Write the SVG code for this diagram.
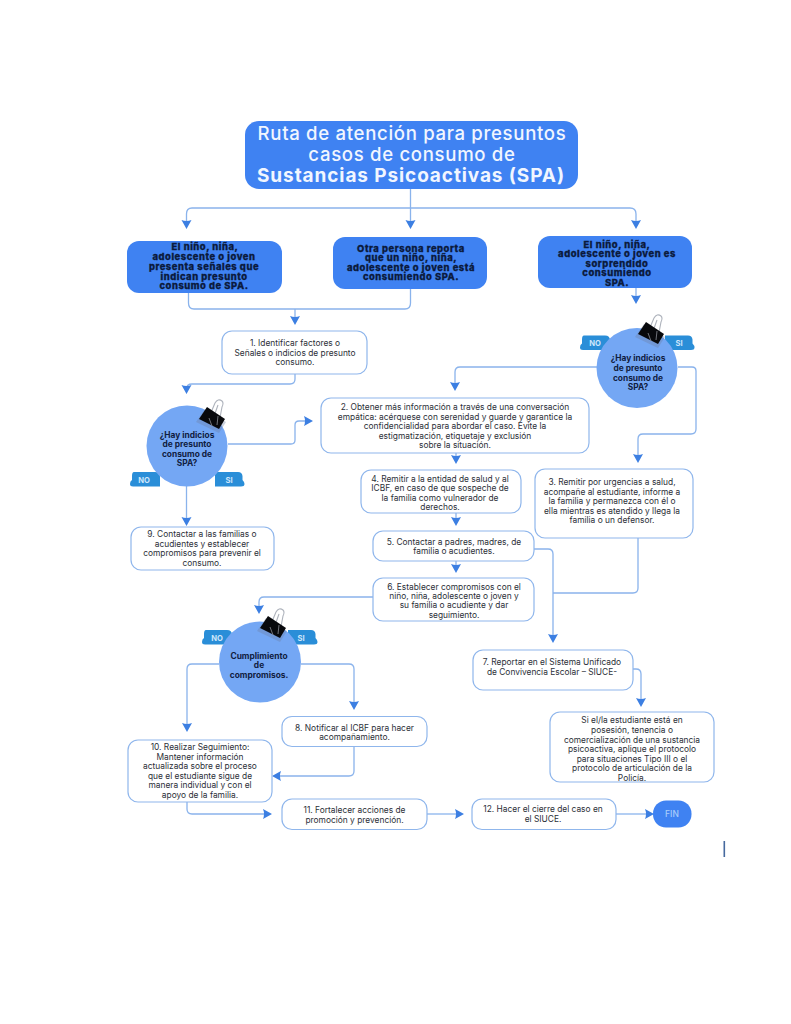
<svg xmlns="http://www.w3.org/2000/svg" width="791" height="1024" viewBox="0 0 791 1024">
<style>
text{font-family:"Inter","Noto Sans","Liberation Sans",sans-serif;text-anchor:middle}
.hd{fill:#3f82f2}
.box{fill:#fff;stroke:#8fb6ec;stroke-width:1.2}
.dec{fill:#74a7f4}
.t{font-size:8.4px;fill:#2c3038}
.b{font-size:9.4px;letter-spacing:.55px;font-weight:800;fill:#0b1a3c;stroke:#0b1a3c;stroke-width:.3}
.q{font-size:8.4px;font-weight:700;fill:#10203f}
.c{fill:none;stroke:#8ab3ec;stroke-width:1.3}
.tag{fill:#2a8ed8}
.tl{font-size:7.6px;font-weight:700;fill:#cfe6fb}
.ti{font-size:18.600px;letter-spacing:.67px;font-weight:500;fill:#f1f6ff}
.ti2{font-size:19px;letter-spacing:.9px;font-weight:650;fill:#f1f6ff}
</style>
<defs>
<path id="ad" d="M-5-9Q0-7 5-9L0 0Z" fill="#3c7fe2"/>
<g id="clip">
<path d="M-6 5L2-14Q5-19 9-16Q11-14 9-10L6 6M-1 5L5-12" fill="none" stroke="#aeb3bc" stroke-width="1.1"/>
<path d="M-15 3L-6-10L15 3L8 14Z" fill="#6d7ea0" opacity=".35" transform="translate(-2 2)"/>
<path d="M-14 2L-6-10L12 2L6 12Z" fill="#08090c"/>
<path d="M-4 1L-1 9M5-1L4 8" stroke="#8a8d94" stroke-width=".8" fill="none"/>
</g>
<path id="tagL" d="M4 0H25Q30 0 30 5V14.500H3Q0 14.500 0 12Q0 9 2 8V4Q2 0 4 0Z" class="tag"/>
<path id="tagR" d="M0 0H23Q27 0 27.500 4V8Q29.500 10 29.500 12Q29.500 14.500 26 14.500H0Q0 14.500 0 9Z" class="tag"/>
</defs>
<rect width="791" height="1024" fill="#fff"/>

<g id="connectors">
<path class="c" d="M410.500 189V222M186.500 222V214Q186.500 208 192 208H630Q636 208 636 214V222"/>
<path class="c" d="M188.500 293V303Q188.500 309 194 309H405Q410.500 309 410.500 303V289M295 309V318"/>
<path class="c" d="M636 288V297"/>
<path class="c" d="M295 374V379Q295 384 290 384H192Q186.500 384 186.500 389"/>
<path class="c" d="M597 367H460Q455 367 455 372V384"/>
<path class="c" d="M678 367H692Q696 367 696 371V429Q696 434 691 434H643Q638 434 638 439V456"/>
<path class="c" d="M228 444H291Q295 444 295 440V425Q295 421 299 421H306"/>
<path class="c" d="M186.500 486V519"/>
<path class="c" d="M456 453V457M456 513V519M456 561V566"/>
<path class="c" d="M534 549H548Q553 549 553 554V636"/>
<path class="c" d="M638 538V588Q638 593 633 593H553"/>
<path class="c" d="M373 597H264Q259 597 259 602V607"/>
<path class="c" d="M219 664H192Q187 664 187 669V725"/>
<path class="c" d="M301 664H349Q354 664 354 669V703"/>
<path class="c" d="M354 746V771Q354 776 349 776H279"/>
<path class="c" d="M187 802V809Q187 814 192 814H265"/>
<path class="c" d="M427 814H457"/>
<path class="c" d="M616 814H647"/>
<path class="c" d="M633 669H636Q641 669 641 674V700"/>
<use href="#ad" x="186.500" y="229"/><use href="#ad" x="410.500" y="229"/><use href="#ad" x="636" y="229"/>
<use href="#ad" x="295" y="325"/><use href="#ad" x="636" y="304"/><use href="#ad" x="186.500" y="394"/>
<use href="#ad" x="455" y="391"/><use href="#ad" x="638" y="463"/>
<use href="#ad" transform="translate(313 421) rotate(-90)"/>
<use href="#ad" x="456" y="464"/><use href="#ad" x="456" y="526"/><use href="#ad" x="456" y="573"/>
<use href="#ad" x="186.500" y="526"/><use href="#ad" x="553" y="643"/><use href="#ad" x="259" y="614"/>
<use href="#ad" x="187" y="732"/><use href="#ad" x="354" y="710"/><use href="#ad" x="641" y="707"/>
<use href="#ad" transform="translate(272 776) rotate(90)"/>
<use href="#ad" transform="translate(272 814) rotate(-90)"/>
<use href="#ad" transform="translate(464 814) rotate(-90)"/>
<use href="#ad" transform="translate(654 814) rotate(-90)"/>
</g>

<g id="title">
<rect class="hd" x="245" y="121" width="333" height="68" rx="14"/>
<text class="ti" x="412" y="140.300">Ruta de atención para presuntos</text>
<text class="ti" x="412" y="160.800">casos de consumo de</text>
<text class="ti2" x="411" y="182">Sustancias Psicoactivas (SPA)</text>
</g>
<g id="start-a"><rect class="hd" x="127" y="241" width="155" height="52" rx="12"/>
<text class="b" x="205" y="250">El niño, niña,</text><text class="b" x="204" y="260">adolescente o joven</text><text class="b" x="204" y="270">presenta señales que</text><text class="b" x="204" y="279.500">indican presunto</text><text class="b" x="204" y="289">consumo de SPA.</text></g>
<g id="start-b"><rect class="hd" x="333" y="237" width="154" height="52" rx="12"/>
<text class="b" x="411" y="251.700">Otra persona reporta</text><text class="b" x="411" y="261">que un niño, niña,</text><text class="b" x="411" y="270.700">adolescente o joven está</text><text class="b" x="411" y="280">consumiendo SPA.</text></g>
<g id="start-c"><rect class="hd" x="538" y="236" width="154" height="52" rx="12"/>
<text class="b" x="617" y="247.700">El niño, niña,</text><text class="b" x="617" y="257">adolescente o joven es</text><text class="b" x="617" y="266.700">sorprendido</text><text class="b" x="617" y="276">consumiendo</text><text class="b" x="617" y="285.700">SPA.</text></g>

<g id="n1"><rect class="box" x="222" y="331" width="145" height="43" rx="10"/>
<text class="t" x="295" y="346">1. Identificar factores o</text><text class="t" x="295" y="355.700">Señales o indicios de presunto</text><text class="t" x="295" y="365">consumo.</text></g>

<g id="d-right"><use href="#tagL" x="580" y="335.500"/><use href="#tagR" x="665" y="335.500"/>
<ellipse class="dec" cx="637" cy="368" rx="40.500" ry="40"/>
<use href="#clip" transform="translate(652 332)"/>
<text class="tl" x="595" y="346">NO</text><text class="tl" x="679" y="346">SI</text>
<text class="q" x="638" y="361.300">¿Hay indicios</text><text class="q" x="638" y="371">de presunto</text><text class="q" x="638" y="380.700">consumo de</text><text class="q" x="638" y="390.300">SPA?</text></g>

<g id="d-left"><use href="#tagL" x="130" y="472"/><use href="#tagR" x="215" y="472"/>
<ellipse class="dec" cx="187" cy="446" rx="40.500" ry="40.500"/>
<use href="#clip" transform="translate(213 417)"/>
<text class="tl" x="144" y="482.500">NO</text><text class="tl" x="229" y="482.500">SI</text>
<text class="q" x="187" y="437.700">¿Hay indicios</text><text class="q" x="187" y="447.300">de presunto</text><text class="q" x="187" y="456.700">consumo de</text><text class="q" x="187" y="466.300">SPA?</text></g>

<g id="n2"><rect class="box" x="321" y="398" width="268" height="55" rx="10"/>
<text class="t" x="455" y="410">2. Obtener más información a través de una conversación</text><text class="t" x="455" y="419.700">empática: acérquese con serenidad y guarde y garantice la</text><text class="t" x="455" y="429.300">confidencialidad para abordar el caso. Evite la</text><text class="t" x="455" y="438.700">estigmatización, etiquetaje y exclusión</text><text class="t" x="455" y="448.300">sobre la situación.</text></g>
<g id="n3"><rect class="box" x="535" y="469" width="158" height="69" rx="10"/>
<text class="t" x="612" y="485">3. Remitir por urgencias a salud,</text><text class="t" x="612" y="494.700">acompañe al estudiante, informe a</text><text class="t" x="612" y="504">la familia y permanezca con él o</text><text class="t" x="612" y="513.700">ella mientras es atendido y llega la</text><text class="t" x="612" y="523">familia o un defensor.</text></g>
<g id="n4"><rect class="box" x="361" y="470" width="160" height="43" rx="10"/>
<text class="t" x="440" y="481.700">4. Remitir a la entidad de salud y al</text><text class="t" x="440" y="491.300">ICBF, en caso de que sospeche de</text><text class="t" x="440" y="500.700">la familia como vulnerador de</text><text class="t" x="440" y="510.300">derechos.</text></g>
<g id="n5"><rect class="box" x="373" y="531" width="161" height="30" rx="10"/>
<text class="t" x="454" y="544.700">5. Contactar a padres, madres, de</text><text class="t" x="454" y="554">familia o acudientes.</text></g>
<g id="n6"><rect class="box" x="373" y="578" width="161" height="43" rx="10"/>
<text class="t" x="454" y="589.700">6. Establecer compromisos con el</text><text class="t" x="454" y="599">niño, niña, adolescente o joven y</text><text class="t" x="454" y="608.300">su  familia o acudiente y dar</text><text class="t" x="454" y="618">seguimiento.</text></g>
<g id="n9"><rect class="box" x="131" y="527" width="143" height="43" rx="10"/>
<text class="t" x="202" y="537">9. Contactar a las familias o</text><text class="t" x="202" y="546.700">acudientes y establecer</text><text class="t" x="202" y="556.300">compromisos para prevenir el</text><text class="t" x="202" y="566">consumo.</text></g>

<g id="d-bottom"><use href="#tagL" x="202" y="630"/><use href="#tagR" x="288" y="630"/>
<ellipse class="dec" cx="260" cy="662" rx="41" ry="40.500"/>
<use href="#clip" transform="translate(274 626)"/>
<text class="tl" x="217" y="640.500">NO</text><text class="tl" x="301" y="640.500">SI</text>
<text class="q" x="259" y="659">Cumplimiento</text><text class="q" x="259" y="668.300">de</text><text class="q" x="259" y="677.700">compromisos.</text></g>

<g id="n7"><rect class="box" x="473" y="650" width="160" height="40" rx="10"/>
<text class="t" x="552" y="665.300">7. Reportar en el Sistema Unificado</text><text class="t" x="552" y="675">de Convivencia Escolar – SIUCE-</text></g>
<g id="n-si"><rect class="box" x="550" y="712" width="164" height="70" rx="10"/>
<text class="t" x="632" y="723.300">Si el/la estudiante está en</text><text class="t" x="632" y="733">posesión, tenencia o</text><text class="t" x="632" y="742.700">comercialización de una sustancia</text><text class="t" x="632" y="752.300">psicoactiva, aplique el protocolo</text><text class="t" x="632" y="761.700">para situaciones Tipo III o el</text><text class="t" x="632" y="771.300">protocolo de articulación de la</text><text class="t" x="632" y="780.700">Policía.</text></g>
<g id="n8"><rect class="box" x="282" y="716.500" width="145" height="30" rx="10"/>
<text class="t" x="354.500" y="730.700">8. Notificar al ICBF para hacer</text><text class="t" x="354.500" y="740.300">acompañamiento.</text></g>
<g id="n10"><rect class="box" x="128" y="740" width="144" height="62" rx="10"/>
<text class="t" x="200" y="750">10. Realizar Seguimiento:</text><text class="t" x="200" y="759.700">Mantener información</text><text class="t" x="200" y="769">actualizada sobre el proceso</text><text class="t" x="200" y="778.700">que el estudiante sigue de</text><text class="t" x="200" y="788">manera individual y con el</text><text class="t" x="200" y="797.700">apoyo de la familia.</text></g>
<g id="n11"><rect class="box" x="282" y="799" width="145" height="30.500" rx="10"/>
<text class="t" x="354.500" y="813.300">11. Fortalecer acciones de</text><text class="t" x="354.500" y="822.700">promoción y prevención.</text></g>
<g id="n12"><rect class="box" x="472" y="799" width="144" height="30.500" rx="10"/>
<text class="t" x="543" y="812">12. Hacer el cierre del caso en</text><text class="t" x="543" y="821.700">el SIUCE.</text></g>
<g id="fin"><rect class="hd" x="653" y="800.500" width="38.500" height="27" rx="13"/>
<text x="672" y="817" style="font-size:8.500px;font-weight:500;fill:#a9cdfa">FIN</text></g>
<rect x="723.500" y="841" width="1.600" height="16" fill="#46699e"/>
</svg>
